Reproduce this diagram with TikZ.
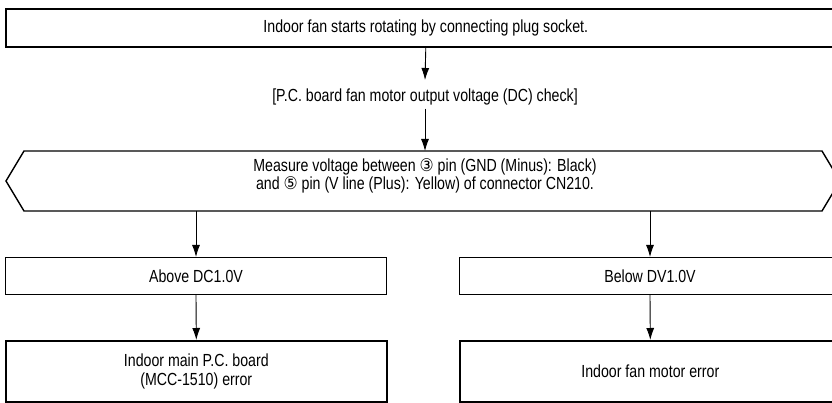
\documentclass[tikz,border=0pt]{standalone}
\usepackage{fontspec}
\setmainfont{Liberation Sans}[FakeStretch=0.81]
\newfontfamily\circfont{DejaVu Sans}[Scale=1.0,FakeStretch=0.9]
\usetikzlibrary{arrows.meta}
\begin{document}
\begin{tikzpicture}[x=1pt,y=-1pt,
  font=\fontsize{17.5}{18.5}\selectfont,
  boxthin/.style={draw, line width=1pt},
  boxthick/.style={draw, line width=1.6pt},
  arr/.style={-{Latex[length=12pt,width=8pt]}, line width=0.9pt}]
\useasboundingbox (0,0) rectangle (832,403);
\clip (0,0) rectangle (832,403);
\node[boxthick, minimum width=840, minimum height=38, inner sep=0pt, anchor=north west] (top) at (5,8) {Indoor fan starts rotating by connecting plug socket.};
\node (chk) at (425,97) {[P.C. board fan motor output voltage (DC) check]};
\coordinate (hexT) at (425,151);
\coordinate (hexB) at (425,211);
\draw[line width=1.4pt] (24,151) -- (822,151) -- (840,181) -- (822,211) -- (24,211) -- (6,181) -- cycle;
\node[align=center] (hex) at (425,176) {Measure voltage between {\circfont ③} pin (GND (Minus): Black)\\and {\circfont ⑤} pin (V line (Plus): Yellow) of connector CN210.};
\node[boxthin, minimum width=381, minimum height=37, inner sep=0pt, anchor=north west] (above) at (5,257) {Above DC1.0V};
\node[boxthin, minimum width=381, minimum height=37, inner sep=0pt, anchor=north west] (below) at (459,257) {Below DV1.0V};
\node[boxthick, minimum width=381, minimum height=61, inner sep=0pt, anchor=north west, align=center] (main) at (5,340) {Indoor main P.C. board\\(MCC-1510) error};
\node[boxthick, minimum width=381, minimum height=61, inner sep=0pt, anchor=north west] (motor) at (459,340) {Indoor fan motor error};
\draw[arr] (top.south) -- (425,80);
\draw[arr] (chk.south) -- (hexT);
\draw[arr] (above.north |- hexB) -- (above.north);
\draw[arr] (below.north |- hexB) -- (below.north);
\draw[arr] (above.south) -- (main.north);
\draw[arr] (below.south) -- (motor.north);
\end{tikzpicture}
\end{document}
